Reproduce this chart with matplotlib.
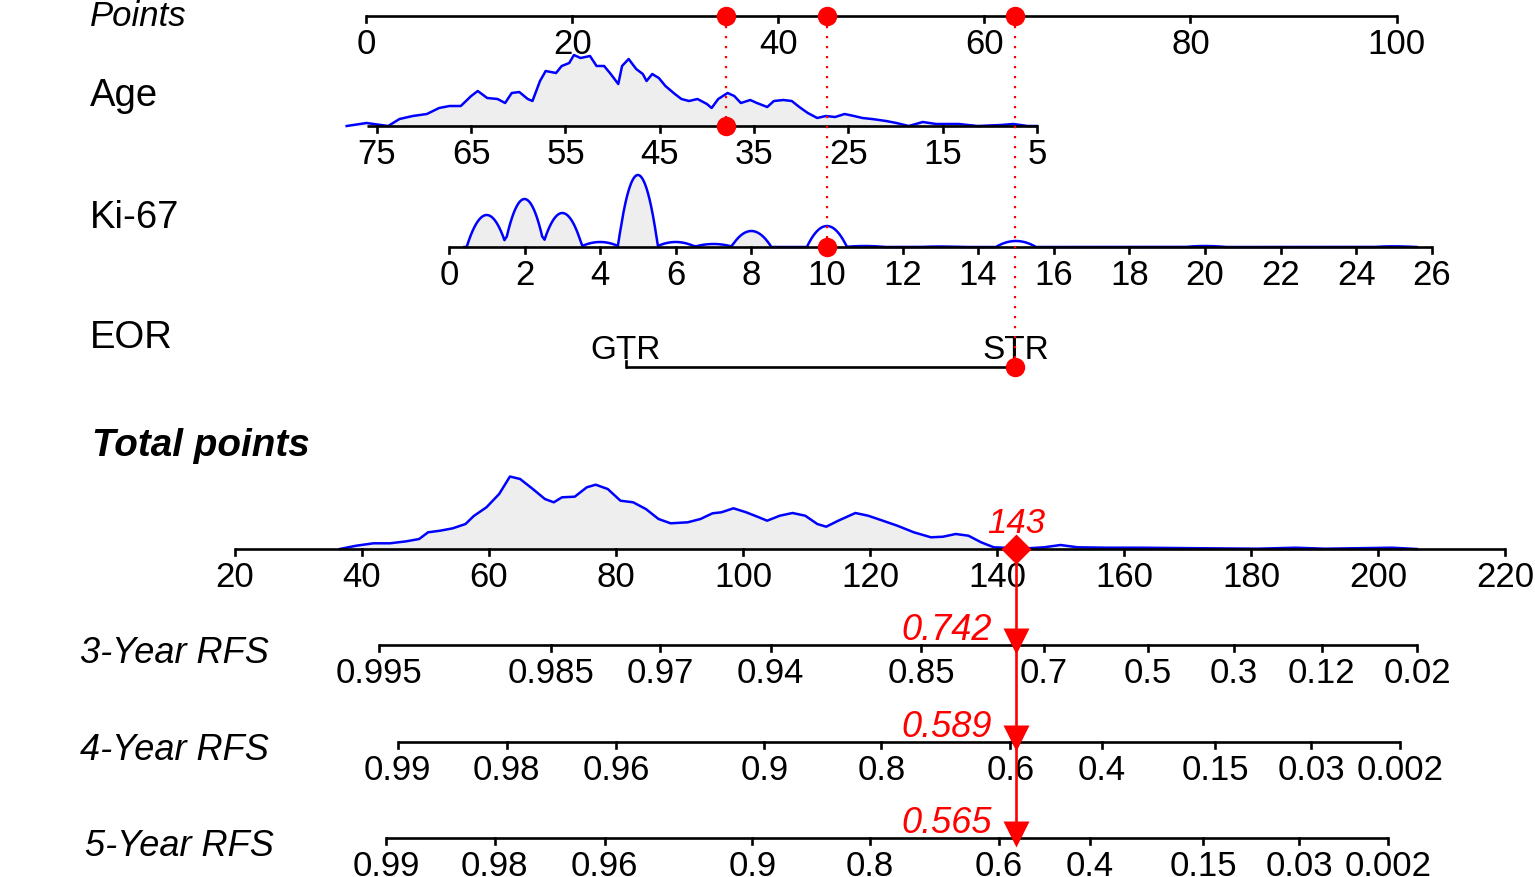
import numpy as np
import matplotlib
matplotlib.use("Agg")
import matplotlib.pyplot as plt
import matplotlib.transforms as mtransforms

plt.rcParams['font.family'] = ['Liberation Sans', 'DejaVu Sans']

W, H = 1535, 877

# ------------------------------------------------------------------ data
points_ticks = [0, 20, 40, 60, 80, 100]
age_ticks = [75, 65, 55, 45, 35, 25, 15, 5]
age_range = (5, 76)
ki67_ticks = list(range(0, 27, 2))
ki67_range = (0, 26)
eor_levels = ["GTR", "STR"]
eor_points = [25.2, 63.0]
total_ticks = list(range(20, 221, 20))

# points contributed per unit of each predictor
age_at_zero_points = 76.1
age_points_per_year = -0.9155
ki67_points_at_zero = 8.0
ki67_points_per_unit = 3.67

# relative density of age
age_dens_age = [78.2, 76.1, 73.8, 72.6, 71.2, 69.7, 68.4, 67.3, 66.1, 65.0, 64.3, 63.3,
                62.2, 61.4, 60.7, 59.9, 59.0, 58.5, 57.7, 57.1, 56.0, 55.4, 54.6, 54.1,
                53.4, 52.4, 51.7, 50.9, 50.2, 49.4, 49.0, 48.3, 47.5, 46.8, 46.4, 45.8,
                45.1, 44.4, 43.4, 42.7, 41.9, 41.0, 40.0, 39.5, 38.8, 37.8, 37.1, 36.4,
                35.4, 34.7, 33.6, 32.9, 31.9, 31.0, 30.2, 29.3, 28.3, 27.4, 26.4, 25.4,
                24.4, 23.5, 22.5, 21.0, 19.9, 18.6, 17.1, 15.7, 13.3, 11.3, 8.8, 7.5,
                6.0, 5.0]
age_dens = [0, 3, 0, 7, 10, 12, 18, 20, 20, 30, 35, 28, 27, 23, 33, 34, 27, 25, 45, 55,
            53, 60, 63, 71, 68, 70, 60, 60, 52, 42, 60, 67, 57, 52, 45, 52, 48, 40, 32,
            27, 25, 27, 22, 18, 27, 33, 30, 23, 26, 23, 19, 25, 26, 25, 19, 13, 8, 10, 9,
            12, 10, 8, 7, 5, 3, 0, 4, 2, 2, 0, 1, 2, 0, 0]

# relative frequency of Ki-67 values
ki67_values = list(range(0, 27))
ki67_freq = [0, 32, 48, 34, 5, 72, 5, 3, 16, 0, 21, 1, 0, 0.5, 0, 6,
             0, 0, 0, 0, 1, 0, 0, 0, 0, 0.7, 0]
ki67_shaded = [1, 2, 3, 5, 8]

# relative density of total points
total_dens_x = [36.5, 39.1, 41.8, 44.4, 47.0, 49.0, 50.4, 52.3, 54.3, 56.3, 57.6, 59.6,
                61.6, 63.3, 64.9, 66.9, 68.8, 70.2, 71.5, 73.5, 75.4, 76.8, 78.7, 80.7,
                82.7, 84.7, 86.7, 88.6, 91.3, 93.3, 95.2, 96.6, 98.5, 100.5, 102.5, 103.8,
                105.8, 107.8, 109.8, 111.7, 113.1, 115.0, 117.7, 119.7, 121.7, 124.3,
                126.9, 129.6, 131.5, 133.5, 135.5, 137.5, 139.5, 142.1, 144.8, 147.4,
                150.0, 152.7, 157.3, 162.6, 167.9, 173.1, 181.0, 187.0, 191.6, 202.2, 206.1]
total_dens = [0, 3.3, 5.7, 5.7, 7.7, 10, 16.7, 18.3, 20.7, 25, 33, 41.7, 55, 72.5, 70, 60,
              50, 46.7, 51.7, 52.3, 61.7, 64.3, 60, 48.3, 46.7, 40, 30, 25.7, 26.7, 30,
              35.7, 36.7, 40.7, 36.7, 31.7, 28.3, 33.3, 36, 33.3, 25, 22.3, 28.3, 36, 33.3,
              29, 23.3, 16.7, 11.7, 12.3, 15, 13.3, 6.7, 1.7, 1, 0.7, 1.7, 4, 1.7, 1.3, 1.3,
              1, 0.7, 0.3, 1.3, 0.3, 1.3, 0]

rfs_names = ["3-Year RFS", "4-Year RFS", "5-Year RFS"]
rfs_ticks = [[0.995, 0.985, 0.97, 0.94, 0.85, 0.7, 0.5, 0.3, 0.12, 0.02],
             [0.99, 0.98, 0.96, 0.9, 0.8, 0.6, 0.4, 0.15, 0.03, 0.002],
             [0.99, 0.98, 0.96, 0.9, 0.8, 0.6, 0.4, 0.15, 0.03, 0.002]]
rfs_pred = [0.742, 0.589, 0.565]
lp_per_point = 0.04071

patient_age = 38
patient_ki67 = 10
patient_eor = "STR"

# ------------------------------------------------------------------ layout
PTS_ANCHOR = ((0, 366.5), (100, 1396.5))    # (value, pixel x)
TOT_ANCHOR = ((20, 235.0), (220, 1505.0))
Y_POINTS, Y_AGE, Y_KI, Y_EOR, Y_TOTAL = 16, 126, 247, 367, 549
Y_RFS = [645, 742, 838]
TICK_LEN = 6
LAB_OFF = 38
BLACK_LW = 1.9
BLUE_LW = 1.8
RED = '#FF0000'
BLUE = '#0000FF'
FILL = '#EEEEEE'
TICK_FS = 25
KW = 0.53

fig = plt.figure(figsize=(W / 100, H / 100), dpi=100)


def make_axes(anchor):
    (v0, p0), (v1, p1) = anchor
    k = (v1 - v0) / (p1 - p0)
    ax = fig.add_axes([0, 0, 1, 1])
    ax.set_xlim(v0 + (0 - p0) * k, v0 + (W - p0) * k)
    ax.set_ylim(H, 0)
    ax.axis('off')
    ax.patch.set_alpha(0)
    return ax


ax_lab = make_axes(((0, 0), (W, W)))
ax_p = make_axes(PTS_ANCHOR)
ax_t = make_axes(TOT_ANCHOR)


def age_pts(a):
    return (np.asarray(a) - age_at_zero_points) * age_points_per_year


def ki_pts(k):
    return ki67_points_at_zero + np.asarray(k) * ki67_points_per_unit


def draw_axis(ax, y, lo, hi, ticks, labels, down=True, fs=TICK_FS):
    ax.plot([lo, hi], [y, y], color='black', lw=BLACK_LW, solid_capstyle='butt', zorder=3)
    s = 1 if down else -1
    for t, l in zip(ticks, labels):
        ax.plot([t, t], [y, y + s * TICK_LEN], color='black', lw=BLACK_LW, zorder=3)
        if down:
            ax.text(t, y + LAB_OFF, l, ha='center', va='baseline', fontsize=fs, zorder=4)
        else:
            ax.text(t, y - 8, l, ha='center', va='baseline', fontsize=fs - 1, zorder=4)


# ---- row labels
ax_lab.text(90, 26, "Points", fontsize=25, style='italic', va='baseline')
ax_lab.text(90, 106, "Age", fontsize=27.5, va='baseline')
ax_lab.text(90, 228, "Ki-67", fontsize=27.5, va='baseline')
ax_lab.text(90, 348, "EOR", fontsize=27.5, va='baseline')
ax_lab.text(92, 456, "Total points", fontsize=27.8, style='italic', weight='bold', va='baseline')
for name, y, x in zip(rfs_names, [663, 760, 856], [80, 80, 85]):
    ax_lab.text(x, y, name, fontsize=26, style='italic', va='baseline')

# ---- points axis
draw_axis(ax_p, Y_POINTS, 0, 100, points_ticks, [str(t) for t in points_ticks])

# ---- age
ax_x = age_pts(age_dens_age)
ax_y = Y_AGE - np.asarray(age_dens, float)
ax_p.fill_between(ax_x, Y_AGE, ax_y, color=FILL, lw=0, zorder=1)
ax_p.plot(ax_x, ax_y, color=BLUE, lw=BLUE_LW, zorder=2)
draw_axis(ax_p, Y_AGE, age_pts(age_range[1]), age_pts(age_range[0]),
          age_pts(age_ticks), [str(t) for t in age_ticks])

# ---- Ki-67
grid = np.linspace(-0.2, 26.2, 2641)
curve = np.zeros_like(grid)
for v, f in zip(ki67_values, ki67_freq):
    curve += f * np.clip(1 - ((grid - v) / KW) ** 2, 0, None)
mask = np.zeros_like(grid, dtype=bool)
for s in ki67_shaded:
    mask |= np.abs(grid - s) <= KW
ax_p.fill_between(ki_pts(grid), Y_KI, Y_KI - curve, where=mask, color=FILL, lw=0, zorder=1)
sel = (grid >= 0.4) & (grid <= 25.6)
ax_p.plot(ki_pts(grid[sel]), Y_KI - curve[sel], color=BLUE, lw=BLUE_LW, zorder=2)
draw_axis(ax_p, Y_KI, ki_pts(ki67_range[0]), ki_pts(ki67_range[1]),
          ki_pts(ki67_ticks), [str(t) for t in ki67_ticks])

# ---- EOR
draw_axis(ax_p, Y_EOR, eor_points[0], eor_points[1], eor_points, eor_levels, down=False)

# ---- patient points
p_age = float(age_pts(patient_age))
p_ki = float(ki_pts(patient_ki67))
p_eor = eor_points[eor_levels.index(patient_eor)]
for p, y in [(p_age, Y_AGE), (p_ki, Y_KI), (p_eor, Y_EOR)]:
    ax_p.plot([p, p], [Y_POINTS, y], color=RED, lw=1.6, ls=(0, (1, 3.5)), zorder=5)
    ax_p.plot([p, p], [Y_POINTS, y], 'o', color=RED, ms=14, mec='none', zorder=6, clip_on=False)

total = round(p_age + p_ki + p_eor)

# ---- total points
tx = np.asarray(total_dens_x)
ty = Y_TOTAL - np.asarray(total_dens, float)
ax_t.fill_between(tx, Y_TOTAL, ty, color=FILL, lw=0, zorder=1)
ax_t.plot(tx, ty, color=BLUE, lw=BLUE_LW, zorder=2, solid_joinstyle='round')
draw_axis(ax_t, Y_TOTAL, total_ticks[0], total_ticks[-1], total_ticks,
          [str(t) for t in total_ticks])

# ---- RFS axes (complementary log-log link)
intercepts = [np.log(-np.log(s)) - lp_per_point * total for s in rfs_pred]


def s_to_total(s, a):
    return (np.log(-np.log(np.asarray(s))) - a) / lp_per_point


for ticks, a, y in zip(rfs_ticks, intercepts, Y_RFS):
    pos = s_to_total(ticks, a)
    draw_axis(ax_t, y, pos[0], pos[-1], pos, [f"{t:g}" for t in ticks])

# ---- prediction arrow
ax_t.plot([total, total], [Y_TOTAL, Y_RFS[-1]], color=RED, lw=1.9, zorder=7)
ax_t.plot([total], [Y_TOTAL], 'D', color=RED, ms=15.5, mec='none', zorder=8)
ax_t.text(total, 533, f"{total}", color=RED, fontsize=25, style='italic',
          ha='center', va='baseline', zorder=8)
off = mtransforms.offset_copy(ax_t.transData, fig=fig, x=-24, y=0, units='dots')
for s, a, y in zip(rfs_pred, intercepts, Y_RFS):
    x = s_to_total(s, a)
    ax_t.plot([x], [y - 4], 'v', color=RED, ms=18.5, mec='none', zorder=8)
    ax_t.text(x, y - 5, f"{s:.3f}", color=RED, fontsize=26, style='italic',
              ha='right', va='baseline', transform=off, zorder=8)

fig.savefig("out.png", dpi=100, facecolor='white')
